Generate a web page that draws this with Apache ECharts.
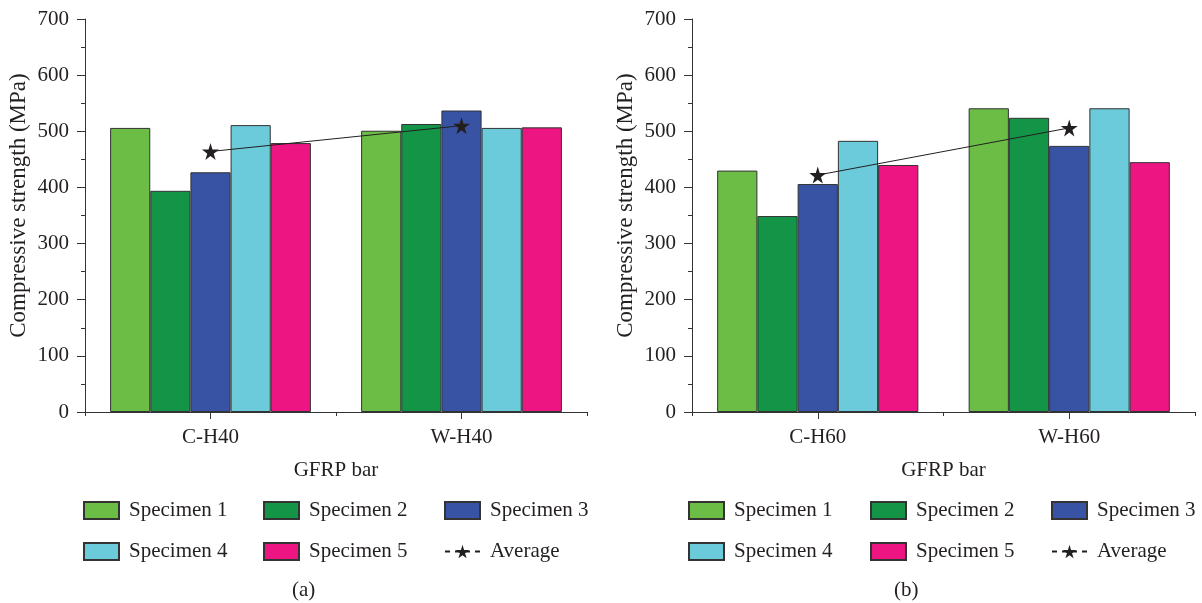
<!DOCTYPE html>
<html>
<head>
<meta charset="utf-8">
<script src="https://cdn.jsdelivr.net/npm/echarts@6/dist/echarts.min.js"></script>
<style>
  html, body { margin: 0; padding: 0; background: #fff; }
  #main { width: 1202px; height: 603px; }
</style>
</head>
<body>
<div id="main"></div>
<script>
// data
var categoriesA = ['C-H40', 'W-H40'];
var categoriesB = ['C-H60', 'W-H60'];
var specimenNames = ['Specimen 1', 'Specimen 2', 'Specimen 3', 'Specimen 4', 'Specimen 5'];

var spec1A = [506, 501];
var spec2A = [394, 513];
var spec3A = [427, 537];
var spec4A = [511, 506];
var spec5A = [479, 507];
var avgA = [464, 510];

var spec1B = [430, 541];
var spec2B = [349, 524];
var spec3B = [406, 474];
var spec4B = [483, 541];
var spec5B = [440, 445];
var avgB = [422, 506];

var yTicks = [0, 700, 100];

var colors = ['#6cbd45', '#139447', '#3953a4', '#6ccbdb', '#ec1582'];
var font = 'Liberation Serif';
var textColor = '#231f20';
var fs = 21;

var chart = echarts.init(document.getElementById('main'));

function yAxis(gi) {
    return {
        type: 'value', gridIndex: gi,
        min: yTicks[0], max: yTicks[1], interval: yTicks[2],
        name: 'Compressive strength (MPa)',
        nameLocation: 'middle', nameGap: 55,
        nameTextStyle: { fontFamily: font, fontSize: 23, color: textColor, padding: [0, 0, 0, 20] },
        axisLine: { show: true, lineStyle: { color: '#333', width: 1 } },
        axisTick: { show: true, length: 8, lineStyle: { color: '#333' } },
        minorTick: { show: true, splitNumber: 2, length: 4, lineStyle: { color: '#333' } },
        axisLabel: { fontFamily: font, fontSize: fs, color: textColor, margin: 16 },
        splitLine: { show: false }
    };
}

function xAxes(gi, cats) {
    return [{
        type: 'category', gridIndex: gi, data: cats,
        name: 'GFRP bar', nameLocation: 'middle', nameGap: 48,
        nameTextStyle: { fontFamily: font, fontSize: fs, color: textColor },
        axisLine: { lineStyle: { color: '#333', width: 1 } },
        axisTick: { show: true, length: 4, lineStyle: { color: '#333' } },
        axisLabel: { fontFamily: font, fontSize: fs, color: textColor, margin: 15 }
    }, {
        type: 'category', gridIndex: gi, data: cats, position: 'bottom',
        axisLine: { show: false },
        axisTick: { show: true, alignWithLabel: true, length: 7, lineStyle: { color: '#333' } },
        axisLabel: { show: false }
    }];
}

function barSeries(name, data, color, xi, yi) {
    return {
        name: name, type: 'bar', xAxisIndex: xi, yAxisIndex: yi,
        data: data, barGap: 0, barCategoryGap: '20%',
        itemStyle: { color: color, borderColor: '#333', borderWidth: 1 }
    };
}

var star = 'path://M50,0 L61,35 L98,35 L68,57 L79,91 L50,70 L21,91 L32,57 L2,35 L39,35 Z';

function avgSeries(data, xi, yi) {
    return {
        name: 'Average', type: 'line', xAxisIndex: xi, yAxisIndex: yi,
        data: data, symbol: star, symbolSize: 17, z: 5,
        lineStyle: { color: '#231f20', width: 1 },
        itemStyle: { color: '#231f20' }
    };
}

function legend(left, names) {
    return {
        left: left, top: 495, orient: 'vertical',
        itemWidth: 35, itemHeight: 17, itemGap: 20,
        data: names,
        textStyle: { fontFamily: font, fontSize: fs, color: textColor, padding: [0, 0, 0, 5] }
    };
}

function rectItem(name) {
    return { name: name, icon: 'rect' };
}

var series = [];
var dataA = [spec1A, spec2A, spec3A, spec4A, spec5A];
var dataB = [spec1B, spec2B, spec3B, spec4B, spec5B];
for (var i = 0; i < 5; i++) {
    series.push(barSeries(specimenNames[i], dataA[i], colors[i], 0, 0));
}
series.push(avgSeries(avgA, 0, 0));
for (var j = 0; j < 5; j++) {
    series.push(barSeries(specimenNames[j], dataB[j], colors[j], 2, 1));
}
series.push(avgSeries(avgB, 2, 1));

var avgLegendItem = { name: 'Average', lineStyle: { type: [5, 5] } };

chart.setOption({
    animation: false,
    title: [
        { text: '(a)', left: 287, top: 575, textStyle: { fontFamily: font, fontSize: fs, fontWeight: 'normal', color: textColor } },
        { text: '(b)', left: 889, top: 575, textStyle: { fontFamily: font, fontSize: fs, fontWeight: 'normal', color: textColor } }
    ],
    grid: [
        { left: 85, top: 19, width: 502, height: 393 },
        { left: 692, top: 19, width: 503, height: 393 }
    ],
    xAxis: xAxes(0, categoriesA).concat(xAxes(1, categoriesB)),
    yAxis: [yAxis(0), yAxis(1)],
    legend: [
        legend(78, [rectItem('Specimen 1'), rectItem('Specimen 4')]),
        legend(258, [rectItem('Specimen 2'), rectItem('Specimen 5')]),
        legend(439, [rectItem('Specimen 3'), avgLegendItem]),
        legend(683, [rectItem('Specimen 1'), rectItem('Specimen 4')]),
        legend(865, [rectItem('Specimen 2'), rectItem('Specimen 5')]),
        legend(1046, [rectItem('Specimen 3'), avgLegendItem])
    ],
    series: series
});
</script>
</body>
</html>
